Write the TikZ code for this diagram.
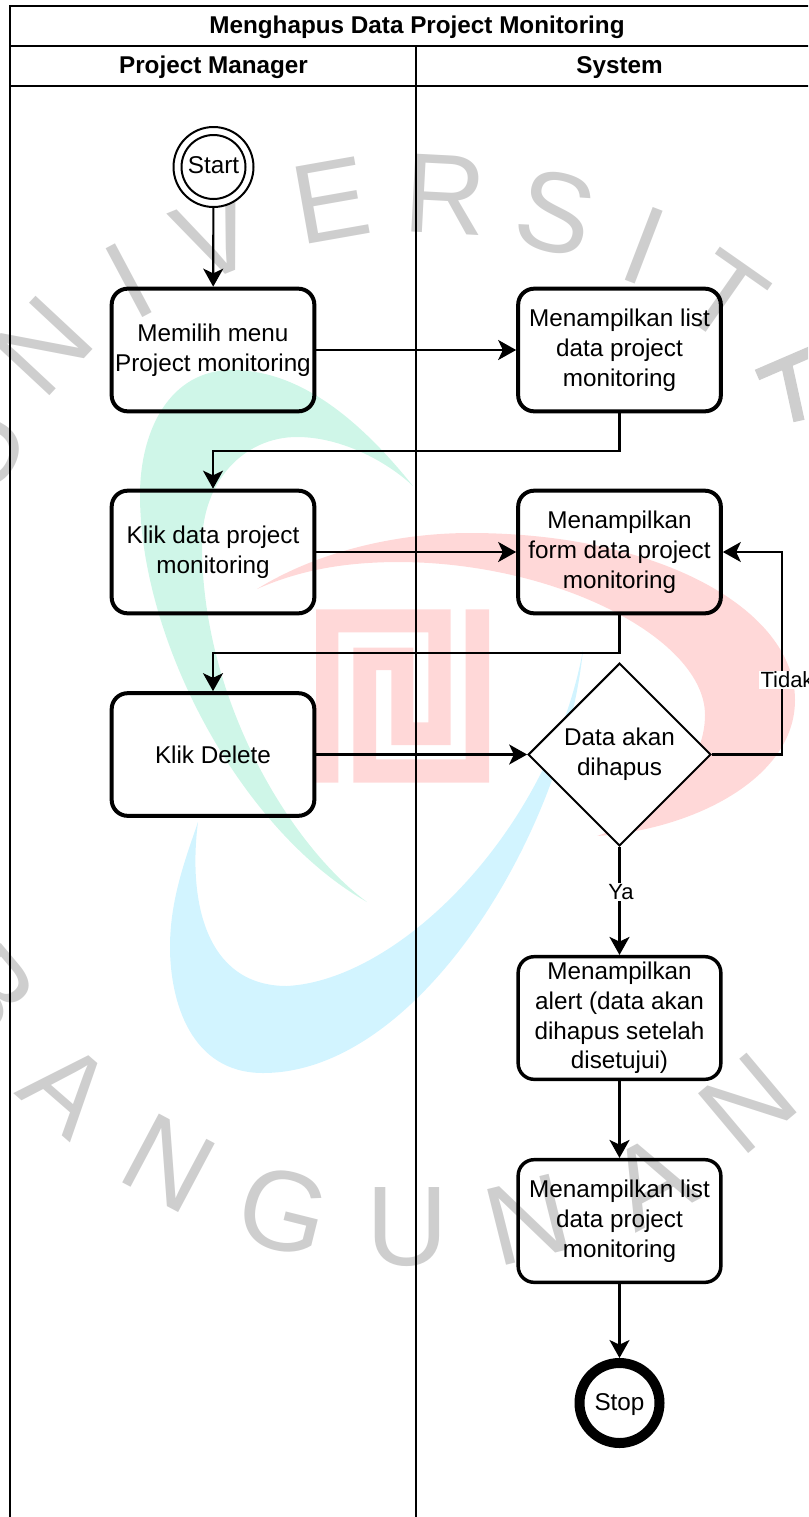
\documentclass[tikz,border=0pt]{standalone}
\usepackage{fontspec}
\setmainfont{Liberation Sans}
\usetikzlibrary{shapes.geometric,arrows.meta}
\definecolor{wmgreen}{HTML}{CFF6E8}
\definecolor{wmred}{HTML}{FFD8D8}
\definecolor{wmblue}{HTML}{D2F4FF}
\definecolor{wmgrey}{HTML}{CECECE}
\newcommand{\nudge}{\rule{0pt}{18.5pt}}
\tikzset{
  actplain/.style={draw=black,line width=3pt,rounded corners=12pt,minimum width=152pt,minimum height=92pt,inner sep=0pt,align=center,font=\fontsize{18.2}{22.3}\selectfont},
  actbox/.style={actplain,execute at begin node=\nudge},
  actthin/.style={actbox,line width=2.6pt},
  decide/.style={diamond,draw=black,fill=white,line width=1.5pt,aspect=1,minimum width=137pt,minimum height=137pt,inner sep=0pt,align=center,font=\fontsize{18.2}{22.3}\selectfont,execute at begin node=\nudge},
  flow/.style={draw=black,line width=1.6pt,-{Stealth[length=13.5pt,width=15pt,inset=3.5pt]}},
  lane/.style={draw=black,line width=1.7pt},
  head/.style={font=\fontsize{18.2}{20}\selectfont\bfseries,inner sep=0pt,text height=14pt,text depth=4pt},
  lab/.style={fill=white,inner sep=1pt,font=\fontsize{16.5}{18}\selectfont},
  letter/.style={text=wmgrey,inner sep=0pt,text height=60pt,text depth=0pt,font=\fontsize{85}{85}\selectfont},
}
\begin{document}
\begin{tikzpicture}[x=0.75pt,y=-0.75pt]
\useasboundingbox (0,0) rectangle (808,1517);
\clip (0,0) rectangle (808,1517);
% watermark crescents
\fill[wmgreen] (413,486) .. controls (360,420) and (300,370) .. (232,370) .. controls (170,370) and (140,430) .. (140,495) .. controls (140,640) and (240,830) .. (367,902)
  .. controls (290,845) and (202,700) .. (202,545) .. controls (202,480) and (245,437) .. (297,437) .. controls (340,437) and (385,460) .. (413,486) -- cycle;
\fill[wmblue] (583,650) .. controls (565,830) and (420,1073) .. (263,1073) .. controls (190,1073) and (170,1000) .. (170,947) .. controls (170,900) and (185,860) .. (198,822)
  .. controls (188,900) and (205,986) .. (287,986) .. controls (400,980) and (550,830) .. (583,650) -- cycle;
\fill[wmred] (257,589) .. controls (320,550) and (400,533) .. (470,533) .. controls (660,533) and (795,610) .. (795,700) .. controls (795,780) and (690,830) .. (597,836)
  .. controls (660,815) and (705,765) .. (705,715) .. controls (705,640) and (560,563) .. (400,562) .. controls (345,562) and (300,570) .. (257,589) -- cycle;
\fill[wmred] (316,609.3) -- (450.7,609.3) -- (450.7,745) -- (391.3,745) -- (391.3,670) -- (376,670) -- (376,759.3) -- (465.7,759.3) -- (465.7,609.3) -- (489,609.3) -- (489,782.7) -- (353.3,782.7) -- (353.3,647.7) -- (413.3,647.7) -- (413.3,722.3) -- (428.3,722.3) -- (428.3,632.3) -- (338.3,632.3) -- (338.3,782.7) -- (316,782.7) -- cycle;
% watermark letters
\node[letter,rotate=60] (wu1) at (-22,447) {U};
\node[letter,rotate=47] (wn1) at (42,345) {N};
\node[letter,rotate=28] (wi1) at (129,280) {I};
\node[letter,rotate=22] (wv) at (216,235) {V};
\node[letter,rotate=10] (we) at (331,200) {E};
\node[letter,rotate=-3] (wr) at (445,194) {R};
\node[letter,rotate=-14] (ws) at (556,212) {S};
\node[letter,rotate=-21] (wi2) at (645,245) {I};
\node[letter,rotate=-35] (wt) at (725,297) {T};
\draw[wmgrey,line width=8.5pt] (757,375) -- (815,350) (787,366) -- (799,421);
\node[letter,rotate=-50] (wb) at (-10,990) {B};
\node[letter,rotate=-41] (wa1) at (68,1088) {A};
\node[letter,rotate=-28] (wn2) at (169,1162) {N};
\node[letter,rotate=-14] (wg) at (284,1210) {G};
\node[letter,rotate=0] (wu2) at (407,1225) {U};
\node[letter,rotate=14] (wn3) at (528,1219) {N};
\node[letter,rotate=28] (wa2) at (650,1180) {A};
\node[letter,rotate=40] (wn4) at (747,1103) {N};
% swimlane frame
\coordinate (tl) at (10,6);
\coordinate (tr) at (812,6);
\coordinate (ml) at (10,46);
\coordinate (mr) at (812,46);
\coordinate (hl) at (10,86);
\coordinate (hr) at (812,86);
\coordinate (bl) at (10,1522);
\coordinate (mt) at (416,46);
\coordinate (mb) at (416,1522);
\draw[lane] (bl) -- (tl) -- (tr) (ml) -- (mr) (hl) -- (hr);
\draw[draw=black,line width=1.5pt] (mt) -- (mb);
\node[head] (title) at (417,26.5) {Menghapus Data Project Monitoring};
\node[head] (pm) at (213.5,66.5) {Project Manager};
\node[head] (sys) at (619.5,66.5) {System};
% nodes
\node[circle,draw=black,fill=white,line width=1.5pt,minimum size=60pt,inner sep=0pt] (startout) at (213.5,167) {};
\node[circle,draw=black,line width=1.5pt,minimum size=48pt,inner sep=0pt,text depth=3pt,font=\fontsize{18.2}{20}\selectfont] (start) at (213.5,167) {Start};
\node[actbox] (b1) at (213,350) {Memilih menu\\Project monitoring};
\node[actbox] (b2) at (619.5,350) {Menampilkan list\\data project\\monitoring};
\node[actbox] (b3) at (213,552) {Klik data project\\monitoring};
\node[actbox] (b4) at (619.5,552) {Menampilkan\\form data project\\monitoring};
\node[actplain] (b5) at (213,754.5) {Klik Delete};
\node[decide] (d) at (619.5,754.5) {Data akan\\dihapus};
\node[actthin] (b6) at (619.5,1018) {Menampilkan\\alert (data akan\\dihapus setelah\\disetujui)};
\node[actthin] (b7) at (619.5,1221) {Menampilkan list\\data project\\monitoring};
\node[circle,draw=black,fill=white,line width=7.5pt,minimum size=60pt,inner sep=0pt,text depth=1.5pt,font=\fontsize{18.2}{20}\selectfont] (stop) at (619.5,1403) {Stop};
% connectors
\coordinate (j1) at (619.5,451);
\coordinate (j2) at (619.5,653);
\coordinate (t1) at (782,754.5);
\coordinate (t2) at (782,552);
\draw[flow] (startout) -- (b1);
\draw[flow] (b1) -- (b2);
\draw[flow] (b2.south) -- (j1) -| (b3.north);
\draw[flow] (b3) -- (b4);
\draw[flow] (b4.south) -- (j2) -| (b5.north);
\draw[flow] (b5) -- (d);
\draw[flow] (d.east) -- (t1) -- (t2) -- (b4.east);
\draw[flow] (d.south) -- (b6.north);
\draw[flow] (b6) -- (b7);
\draw[flow] (b7) -- (stop);
\node[lab] (tidak) at (787,680) {Tidak};
\node[lab] (ya) at (621,892) {Ya};
\end{tikzpicture}
\end{document}
